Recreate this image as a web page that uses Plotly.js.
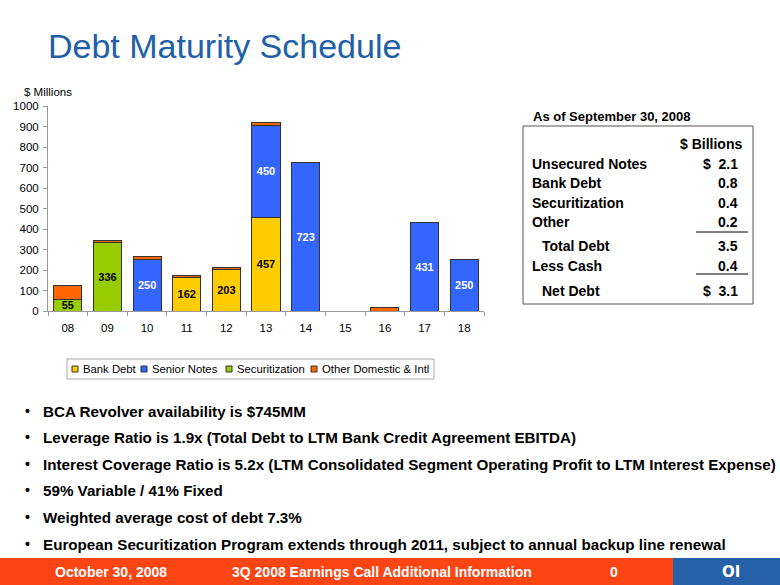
<!DOCTYPE html>
<html>
<head>
<meta charset="utf-8">
<script src="https://cdn.plot.ly/plotly-3.0.1.min.js"></script>
<style>html,body{margin:0;padding:0;background:#fff;}#chart{width:780px;height:585px;}</style>
</head>
<body>
<div id="chart"></div>
<script>
// ---- data ----
var years = ['08','09','10','11','12','13','14','15','16','17','18'];
var bankDebt       = [0, 0, 0, 162, 203, 457, 0, 0, 0, 0, 0];
var seniorNotes    = [0, 0, 250, 0, 0, 450, 723, 0, 0, 431, 250];
var securitization = [55, 336, 0, 0, 0, 0, 0, 0, 0, 0, 0];
var otherDomIntl   = [67, 10, 17, 9, 7, 12, 0, 0, 15, 0, 0];
var seriesNames = ['Bank Debt', 'Senior Notes', 'Securitization', 'Other Domestic & Intl'];
var yTicks = [0,100,200,300,400,500,600,700,800,900,1000];

var tableTitle = 'As of September 30, 2008';
var tableHeader = '$ Billions';
var tableLabels = ['Unsecured Notes','Bank Debt','Securitization','Other','Total Debt','Less Cash','Net Debt'];
var tableValues = ['$  2.1','0.8','0.4','0.2','3.5','0.4','$  3.1'];

var bullets = [
  'BCA Revolver availability is $745MM',
  'Leverage Ratio is 1.9x (Total Debt to LTM Bank Credit Agreement EBITDA)',
  'Interest Coverage Ratio is 5.2x (LTM Consolidated Segment Operating Profit to LTM Interest Expense)',
  '59% Variable / 41% Fixed',
  'Weighted average cost of debt 7.3%',
  'European Securitization Program extends through 2011, subject to annual backup line renewal'
];
var footerDate = 'October 30, 2008';
var footerTitle = '3Q 2008 Earnings Call Additional Information';
var footerPage = '0';

// ---- layout geometry (pixels) ----
var L = 48, T = 106, W = 436, PH = 205;
function X(px){ return (px - L) / W; }
function Y(py){ return (T + PH - py) / PH; }

function labels(arr){ return arr.map(function(v){ return v > 0 ? String(v) : ''; }); }

var font = 'Liberation Sans, Arial, Helvetica, sans-serif';
var line = {color:'#333333', width:1};
var colors = ['#FFCC00', '#3366FF', '#99CC00', '#FF6600'];

var traces = [
  {type:'bar', name:seriesNames[0], x:years, y:bankDebt, text:labels(bankDebt),
   marker:{color:colors[0], line:line}, textposition:'inside', insidetextanchor:'middle',
   constraintext:'none', textfont:{family:font, size:11, color:'#000', weight:'bold'}, hoverinfo:'y'},
  {type:'bar', name:seriesNames[1], x:years, y:seniorNotes, text:labels(seniorNotes),
   marker:{color:colors[1], line:line}, textposition:'inside', insidetextanchor:'middle',
   constraintext:'none', textfont:{family:font, size:11, color:'#fff', weight:'bold'}, hoverinfo:'y'},
  {type:'bar', name:seriesNames[2], x:years, y:securitization, text:labels(securitization),
   marker:{color:colors[2], line:line}, textposition:'inside', insidetextanchor:'middle',
   constraintext:'none', textfont:{family:font, size:11, color:'#000', weight:'bold'}, hoverinfo:'y'},
  {type:'bar', name:seriesNames[3], x:years, y:otherDomIntl,
   marker:{color:colors[3], line:line}, textposition:'none', hoverinfo:'y'}
];

var ann = [];
var shapes = [];

// title
ann.push({xref:'paper', yref:'paper', x:X(46), y:Y(46), xanchor:'left', yanchor:'middle',
  text:'Debt Maturity Schedule', showarrow:false, font:{family:font, size:34, color:'#2060A8'}});
// units
ann.push({xref:'paper', yref:'paper', x:X(22), y:Y(92), xanchor:'left', yanchor:'middle',
  text:'$ Millions', showarrow:false, font:{family:font, size:11.5, color:'#000'}});

// legend (drawn as a key box under the chart)
shapes.push({type:'rect', xref:'paper', yref:'paper', x0:X(67), x1:X(434), y0:Y(359), y1:Y(379),
  line:{color:'#AAAAAA', width:1}, fillcolor:'#fff'});
var keyX = [72, 141, 226, 311];
for (var k = 0; k < seriesNames.length; k++) {
  shapes.push({type:'rect', xref:'paper', yref:'paper', x0:X(keyX[k]), x1:X(keyX[k] + 6),
    y0:Y(366), y1:Y(372), line:{color:'#333', width:1}, fillcolor:colors[k]});
  ann.push({xref:'paper', yref:'paper', x:X(keyX[k] + 9), y:Y(369), xanchor:'left', yanchor:'middle',
    text:seriesNames[k], showarrow:false, font:{family:font, size:11.3, color:'#000'}});
}

// table
ann.push({xref:'paper', yref:'paper', x:X(531), y:Y(116), xanchor:'left', yanchor:'middle',
  text:tableTitle, showarrow:false, font:{family:font, size:13, color:'#000', weight:'bold'}});
shapes.push({type:'rect', xref:'paper', yref:'paper', x0:X(523), x1:X(753), y0:Y(126), y1:Y(304),
  line:{color:'#555', width:1}, fillcolor:'rgba(0,0,0,0)'});
ann.push({xref:'paper', yref:'paper', x:X(744), y:Y(144), xanchor:'right', yanchor:'middle',
  text:tableHeader, showarrow:false, font:{family:font, size:14, color:'#000', weight:'bold'}});
var rowY = [164, 183, 203, 222, 246, 266, 291];
var indent = [0,0,0,0,1,0,1];
for (var i = 0; i < tableLabels.length; i++) {
  ann.push({xref:'paper', yref:'paper', x:X(indent[i] ? 540 : 530), y:Y(rowY[i]), xanchor:'left', yanchor:'middle',
    text:tableLabels[i], showarrow:false, font:{family:font, size:14, color:'#000', weight:'bold'}});
  ann.push({xref:'paper', yref:'paper', x:X(740), y:Y(rowY[i]), xanchor:'right', yanchor:'middle',
    text:tableValues[i], showarrow:false, font:{family:font, size:14, color:'#000', weight:'bold'}});
}
shapes.push({type:'line', xref:'paper', yref:'paper', x0:X(696), x1:X(748), y0:Y(232), y1:Y(232), line:{color:'#000', width:1}});
shapes.push({type:'line', xref:'paper', yref:'paper', x0:X(696), x1:X(748), y0:Y(274), y1:Y(274), line:{color:'#000', width:1}});

// bullets
var bulletY = [411, 437, 464, 490, 517, 544];
for (var j = 0; j < bullets.length; j++) {
  ann.push({xref:'paper', yref:'paper', x:X(23), y:Y(bulletY[j]), xanchor:'left', yanchor:'middle',
    text:'\u2022', showarrow:false, font:{family:font, size:14, color:'#000', weight:'bold'}});
  ann.push({xref:'paper', yref:'paper', x:X(41), y:Y(bulletY[j]), xanchor:'left', yanchor:'middle',
    text:bullets[j], showarrow:false, font:{family:font, size:15.2, color:'#000', weight:'bold'}});
}

// footer
shapes.push({type:'rect', xref:'paper', yref:'paper', x0:X(0), x1:X(673), y0:Y(558), y1:Y(585),
  line:{width:0}, fillcolor:'#FC4512', layer:'below'});
shapes.push({type:'rect', xref:'paper', yref:'paper', x0:X(673), x1:X(780), y0:Y(558), y1:Y(585),
  line:{width:0}, fillcolor:'#2560A8', layer:'below'});
ann.push({xref:'paper', yref:'paper', x:X(111), y:Y(572), xanchor:'center', yanchor:'middle',
  text:footerDate, showarrow:false, font:{family:font, size:14, color:'#fff', weight:'bold'}});
ann.push({xref:'paper', yref:'paper', x:X(382), y:Y(572), xanchor:'center', yanchor:'middle',
  text:footerTitle, showarrow:false, font:{family:font, size:14, color:'#fff', weight:'bold'}});
ann.push({xref:'paper', yref:'paper', x:X(614), y:Y(572), xanchor:'center', yanchor:'middle',
  text:footerPage, showarrow:false, font:{family:font, size:14, color:'#fff', weight:'bold'}});
ann.push({xref:'paper', yref:'paper', x:X(731), y:Y(572), xanchor:'center', yanchor:'middle',
  text:'OI', showarrow:false, font:{family:'DejaVu Sans, sans-serif', size:15, color:'#fff', weight:'bold'}});

var layout = {
  width:780, height:585,
  margin:{l:L, r:780 - L - W, t:T, b:585 - T - PH, pad:0},
  paper_bgcolor:'#fff', plot_bgcolor:'#fff',
  barmode:'stack', bargap:0.29,
  showlegend:false,
  xaxis:{type:'category', showline:true, linecolor:'#999', linewidth:1,
    ticks:'outside', tickson:'boundaries', ticklen:4, tickcolor:'#999', ticklabelstandoff:6,
    tickfont:{family:font, size:11.5, color:'#000'}, showgrid:false, zeroline:false, fixedrange:true},
  yaxis:{range:[0,1000], tickvals:yTicks, showline:true, linecolor:'#999', linewidth:1,
    ticks:'outside', ticklen:4, tickcolor:'#999', ticklabelstandoff:2,
    tickfont:{family:font, size:11.5, color:'#000'}, showgrid:false, zeroline:false, fixedrange:true},
  annotations:ann,
  shapes:shapes,
  font:{family:font}
};

Plotly.newPlot('chart', traces, layout, {displayModeBar:false, staticPlot:true});
</script>
</body>
</html>
